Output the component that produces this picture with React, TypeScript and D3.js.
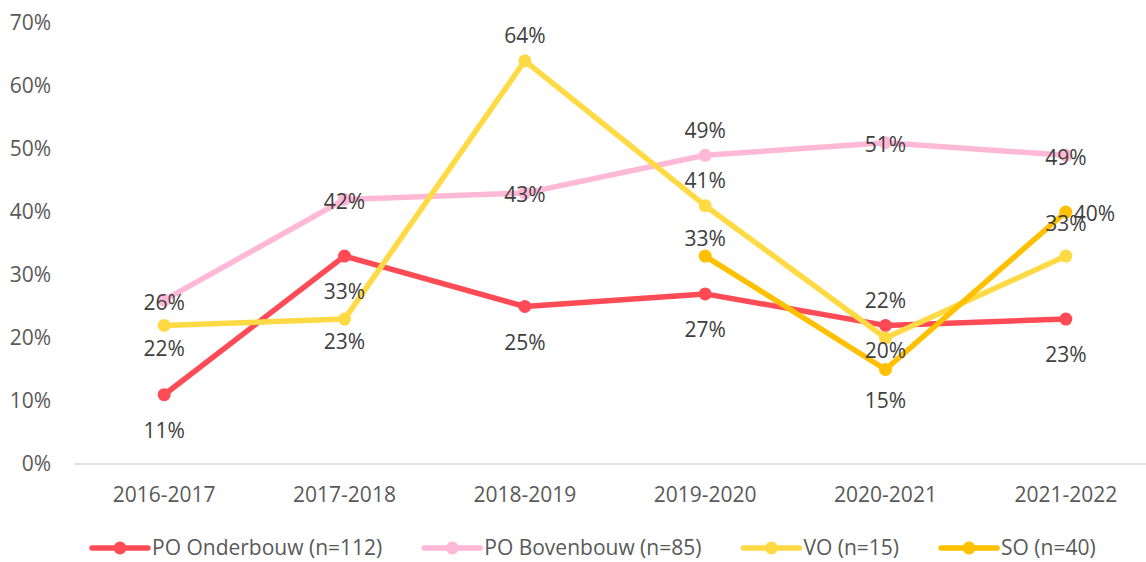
import React, { useRef, useEffect } from 'react'
import * as d3 from 'd3'

const categories = ['2016-2017', '2017-2018', '2018-2019', '2019-2020', '2020-2021', '2021-2022']
const yTicks = [0, 10, 20, 30, 40, 50, 60, 70]

const poOnderbouw = [11, 33, 25, 27, 22, 23]
const poBovenbouw = [26, 42, 43, 49, 51, 49]
const vo = [22, 23, 64, 41, 20, 33]
const so = [null, null, null, 33, 15, 40]

// where each data label sits relative to its point
// t = above, a = just above, A = high above, b = below, n = just below, c = centred, r = right
const poOnderbouwLabels = ['b', 'b', 'b', 'b', 't', 'b']
const poBovenbouwLabels = ['c', 'c', 'c', 't', 'c', 'c']
const voLabels = ['b', 'b', 't', 't', 'n', 'A']
const soLabels = ['', '', '', 'a', 'b', 'r']

const series = [
  { name: 'PO Onderbouw (n=112)', values: poOnderbouw, labels: poOnderbouwLabels, color: '#FF4B55', below: 36 },
  { name: 'PO Bovenbouw (n=85)', values: poBovenbouw, labels: poBovenbouwLabels, color: '#FFB9D6', below: 30 },
  { name: 'VO (n=15)', values: vo, labels: voLabels, color: '#FFDA44', below: 23 },
  { name: 'SO (n=40)', values: so, labels: soLabels, color: '#FFC000', below: 31 },
]

const W = 1146
const H = 562
const FONT = '"Open Sans", sans-serif'

const labelDy: Record<string, number> = { t: -25, a: -17, A: -32, n: 13, c: 2, r: 2 }

const renderChart = (svg: SVGSVGElement) => {
  const svgD3 = d3.select(svg)
  svgD3.selectAll('*').remove()

  const x = d3.scaleBand<string>().domain(categories).range([74, 1156]).padding(0)
  const y = d3.scaleLinear().domain([0, 70]).range([464, 23])
  const cx = (i: number) => (x(categories[i]) || 0) + x.bandwidth() / 2

  // y tick labels
  svgD3
    .append('g')
    .selectAll('text')
    .data(yTicks)
    .enter()
    .append('text')
    .attr('x', 51)
    .attr('y', (d) => y(d))
    .attr('dy', '0.35em')
    .attr('text-anchor', 'end')
    .attr('fill', '#595959')
    .style('font', `21px ${FONT}`)
    .text((d) => `${d}%`)

  // baseline
  svgD3
    .append('line')
    .attr('x1', 74)
    .attr('x2', 1156)
    .attr('y1', y(0))
    .attr('y2', y(0))
    .attr('stroke', '#D9D9D9')
    .attr('stroke-width', 1.5)

  // category labels
  svgD3
    .append('g')
    .selectAll('text')
    .data(categories)
    .enter()
    .append('text')
    .attr('x', (d, i) => cx(i))
    .attr('y', 495)
    .attr('dy', '0.35em')
    .attr('text-anchor', 'middle')
    .attr('fill', '#595959')
    .style('font', `21px ${FONT}`)
    .text((d) => d)

  const line = d3
    .line<number | null>()
    .defined((d) => d !== null)
    .x((d, i) => cx(i))
    .y((d) => y(d as number))

  series.forEach((s) => {
    const g = svgD3.append('g')
    g.append('path')
      .datum(s.values)
      .attr('fill', 'none')
      .attr('stroke', s.color)
      .attr('stroke-width', 5.5)
      .attr('stroke-linejoin', 'round')
      .attr('d', line)
    g.selectAll('circle')
      .data(s.values.map((v, i) => ({ v, i })).filter((d) => d.v !== null))
      .enter()
      .append('circle')
      .attr('cx', (d) => cx(d.i))
      .attr('cy', (d) => y(d.v as number))
      .attr('r', 6.5)
      .attr('fill', s.color)
  })

  // data labels on top
  series.forEach((s) => {
    const pts = s.values.map((v, i) => ({ v, i, pos: s.labels[i] })).filter((d) => d.v !== null)
    svgD3
      .append('g')
      .selectAll('text')
      .data(pts)
      .enter()
      .append('text')
      .attr('x', (d) => (d.pos === 'r' ? cx(d.i) + 8 : cx(d.i)))
      .attr('y', (d) => y(d.v as number) + (d.pos === 'b' ? s.below : labelDy[d.pos] ?? 0))
      .attr('dy', '0.35em')
      .attr('text-anchor', (d) => (d.pos === 'r' ? 'start' : 'middle'))
      .attr('fill', '#404040')
      .style('font', `21px ${FONT}`)
      .text((d) => `${d.v}%`)
  })

  // legend
  const legend = svgD3.append('g').attr('transform', 'translate(0, 548)')
  let lx = 92
  series.forEach((s) => {
    const item = legend.append('g').attr('transform', `translate(${lx}, 0)`)
    item
      .append('line')
      .attr('x1', 0)
      .attr('x2', 56)
      .attr('stroke', s.color)
      .attr('stroke-width', 5.5)
      .attr('stroke-linecap', 'round')
    item.append('circle').attr('cx', 28).attr('r', 6.5).attr('fill', s.color)
    const t = item
      .append('text')
      .attr('x', 60)
      .attr('dy', '0.35em')
      .attr('fill', '#595959')
      .style('font', `21px ${FONT}`)
      .text(s.name)
    const tw = (t.node() as SVGTextElement).getComputedTextLength()
    lx += 60 + tw + 42
  })
}

export default function App() {
  const ref = useRef<SVGSVGElement>(null)
  useEffect(() => {
    document.body.style.margin = '0'
    if (ref.current) renderChart(ref.current)
  }, [])
  return <svg ref={ref} width={W} height={H} style={{ display: 'block', background: '#fff' }} />
}
